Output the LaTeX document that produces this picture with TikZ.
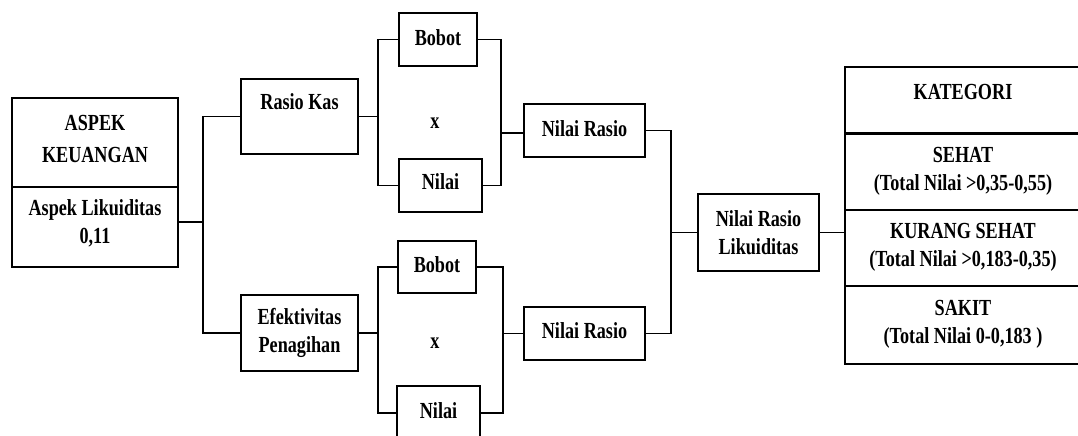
\documentclass[tikz,border=0pt]{standalone}
\usepackage{fontspec}
\setmainfont{Liberation Serif}[FakeStretch=0.79]
\begin{document}
\begin{tikzpicture}[x=1pt,y=-1pt,
  box/.style={draw, line width=1.1pt, inner sep=0pt},
  txt/.style={font=\fontsize{23}{28}\selectfont\bfseries, align=center, inner sep=0pt},
  wire/.style={line width=1.1pt}]
\useasboundingbox (0,0) rectangle (1078,436);
\clip (0,0) rectangle (1078,436);

% Aspek keuangan
\node[box, minimum width=166pt, minimum height=169pt] (aspek) at (95,182.5) {};
\draw[wire] (aspek.west |- 0,187) -- (aspek.east |- 0,187);
\node[txt] (aspekT) at (95,139) {ASPEK\\[4pt]KEUANGAN};
\node[txt] (likT) at (95,223.5) {Aspek Likuiditas\\0,11};

% second level
\node[box, minimum width=117pt, minimum height=75pt] (rk) at (299.5,116.5) {};
\node[txt] (rkT) at (299.5,102) {Rasio Kas};
\node[box, minimum width=117pt, minimum height=76pt] (ef) at (299.5,333) {};
\node[txt] (efT) at (299.5,332.5) {Efektivitas\\Penagihan};

% third level
\node[box, minimum width=78pt, minimum height=53pt] (b1) at (438,39.5) {};
\node[txt] (b1T) at (438,38) {Bobot};
\node[box, minimum width=83pt, minimum height=53pt] (n1) at (440.5,185.5) {};
\node[txt] (n1T) at (440.5,182) {Nilai};
\node[txt] (x1) at (435,123) {x};
\node[box, minimum width=78pt, minimum height=52pt] (b2) at (437,267) {};
\node[txt] (b2T) at (437,265) {Bobot};
\node[box, minimum width=83pt, minimum height=54pt] (n2) at (438.5,413) {};
\node[txt] (n2T) at (438.5,411) {Nilai};
\node[txt] (x2) at (435,343) {x};

% fourth level
\node[box, minimum width=121pt, minimum height=53pt] (nr1) at (584.5,130.5) {};
\node[txt] (nr1T) at (584.5,129) {Nilai Rasio};
\node[box, minimum width=121pt, minimum height=53pt] (nr2) at (584.5,333.5) {};
\node[txt] (nr2T) at (584.5,331) {Nilai Rasio};
\node[box, minimum width=121pt, minimum height=77pt] (nrl) at (758.5,232.5) {};
\node[txt] (nrlT) at (758.5,232.5) {Nilai Rasio\\Likuiditas};

% kategori table
\node[box, minimum width=245pt, minimum height=66pt] (kat) at (967.5,100) {};
\node[box, minimum width=245pt, minimum height=77pt] (sehat) at (967.5,171.5) {};
\node[box, minimum width=245pt, minimum height=76pt] (kurang) at (967.5,248) {};
\node[box, minimum width=245pt, minimum height=78pt] (sakit) at (967.5,325) {};
\draw[line width=2.2pt] (kat.south west) -- (kat.south east);
\node[txt] (katT) at (963,92) {KATEGORI};
\node[txt] (sehatT) at (963,171) {SEHAT\\(Total Nilai >0,35-0,55)};
\node[txt] (kurangT) at (963,247) {KURANG SEHAT\\(Total Nilai >0,183-0,35)};
\node[txt] (sakitT) at (963,324) {SAKIT\\(Total Nilai 0-0,183 )};

% junctions
\coordinate (j1) at (203,222);
\coordinate (j2) at (378,116.5);
\coordinate (j3) at (501,133);
\coordinate (j4) at (378,333);
\coordinate (j5) at (503,333.5);
\coordinate (j6) at (671,232.5);

% connectors
\draw[wire] (aspek.east |- j1) -- (j1);
\draw[wire] (rk.west) -| (j1) |- (ef.west);

\draw[wire] (rk.east) -- (j2);
\draw[wire] (b1.west) -| (j2) |- (n1.west);
\draw[wire] (b1.east) -| (j3) |- (n1.east);
\draw[wire] (j3) -- (nr1.west |- j3);

\draw[wire] (ef.east) -- (j4);
\draw[wire] (b2.west) -| (j4) |- (n2.west);
\draw[wire] (b2.east) -| (j5) |- (n2.east);
\draw[wire] (j5) -- (nr2.west);

\draw[wire] (nr1.east) -| (j6) |- (nr2.east);
\draw[wire] (j6) -- (nrl.west);
\draw[wire] (nrl.east) -- (kurang.west |- nrl.east);
\end{tikzpicture}
\end{document}
